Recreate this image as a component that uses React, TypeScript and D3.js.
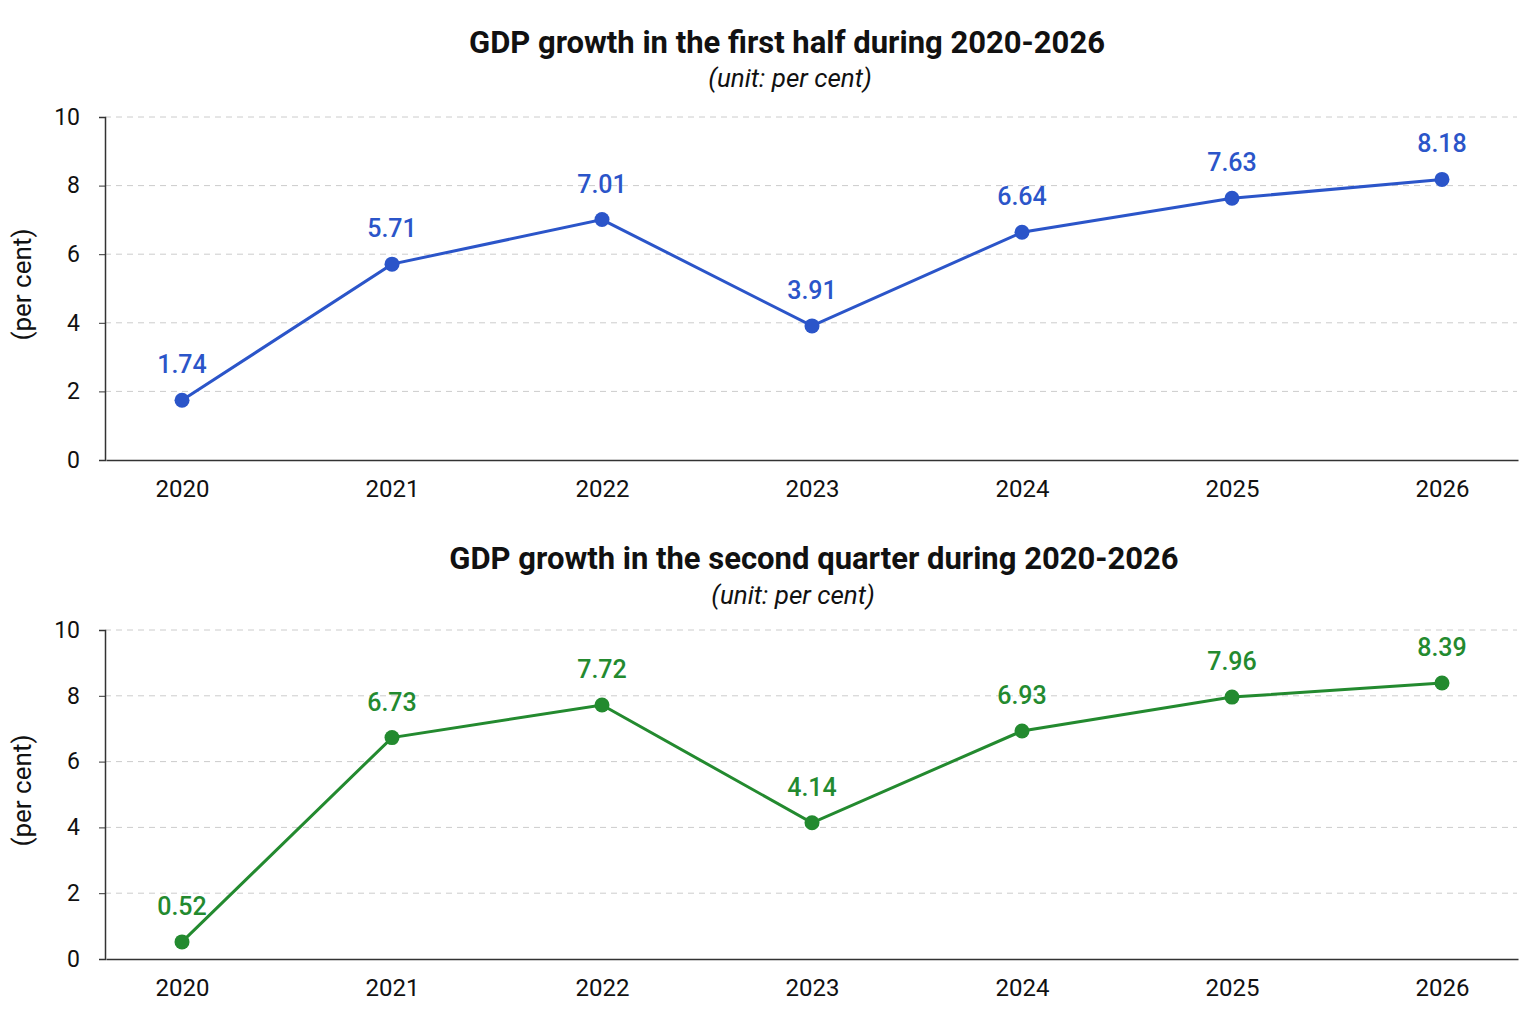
import React, { useEffect, useRef } from 'react';
import * as d3 from 'd3';

const years = ['2020', '2021', '2022', '2023', '2024', '2025', '2026'];
const firstHalf = [1.74, 5.71, 7.01, 3.91, 6.64, 7.63, 8.18];
const secondQuarter = [0.52, 6.73, 7.72, 4.14, 6.93, 7.96, 8.39];
const yTicks = [0, 2, 4, 6, 8, 10];

const panels = [
  {
    title: 'GDP growth in the first half during 2020-2026',
    subtitle: '(unit: per cent)',
    values: firstHalf,
    color: '#2b55c9',
    top: 117,
    bottom: 460,
    titleX: 787,
    titleY: 53,
    subtitleX: 790,
    subtitleY: 87,
  },
  {
    title: 'GDP growth in the second quarter during 2020-2026',
    subtitle: '(unit: per cent)',
    values: secondQuarter,
    color: '#238a2f',
    top: 630,
    bottom: 959,
    titleX: 814,
    titleY: 569,
    subtitleX: 793,
    subtitleY: 604,
  },
];

const FONT = 'Roboto, "Noto Sans", sans-serif';

const App: React.FC = () => {
  const svgRef = useRef<SVGSVGElement>(null);

  useEffect(() => {
    if (!svgRef.current) return;
    const svg = d3.select(svgRef.current);
    svg.selectAll('*').remove();

    const width = 1536;
    const height = 1024;
    const left = 105;
    const right = 1517;

    svg.append('rect').attr('width', width).attr('height', height).attr('fill', '#ffffff');

    const x = d3.scalePoint<string>().domain(years).range([left + 1, right + 1]).padding(0.362);

    panels.forEach(panel => {
      const y = d3.scaleLinear().domain([0, 10]).range([panel.bottom, panel.top]);
      const g = svg.append('g');

      // Titles
      g.append('text')
        .attr('x', panel.titleX)
        .attr('y', panel.titleY)
        .attr('text-anchor', 'middle')
        .style('font-family', FONT)
        .style('font-weight', 'bold')
        .style('font-size', '31px')
        .attr('fill', '#111')
        .text(panel.title);

      g.append('text')
        .attr('x', panel.subtitleX)
        .attr('y', panel.subtitleY)
        .attr('text-anchor', 'middle')
        .style('font-family', FONT)
        .style('font-style', 'italic')
        .style('font-size', '26px')
        .attr('fill', '#111')
        .text(panel.subtitle);

      // Grid lines
      g.append('g')
        .selectAll('line')
        .data(yTicks.filter(t => t > 0))
        .enter()
        .append('line')
        .attr('x1', left)
        .attr('x2', right)
        .attr('y1', d => y(d))
        .attr('y2', d => y(d))
        .attr('stroke', '#cccccc')
        .attr('stroke-width', 1)
        .attr('stroke-dasharray', '6,5');

      // Y axis
      const yAxis = g.append('g')
        .attr('transform', `translate(${left},0)`)
        .call(d3.axisLeft(y).tickValues(yTicks).tickSize(6).tickPadding(19).tickFormat(d3.format('d')));
      yAxis.select('.domain').attr('stroke', '#333').attr('stroke-width', 1.5);
      yAxis.selectAll('.tick line').attr('stroke', '#333');
      yAxis.selectAll('.tick text')
        .style('font-family', FONT)
        .style('font-size', '23px')
        .attr('fill', '#111');

      // X axis
      const xAxis = g.append('g')
        .attr('transform', `translate(0,${panel.bottom})`)
        .call(d3.axisBottom(x).tickSize(0).tickPadding(20));
      xAxis.select('.domain').attr('stroke', '#333').attr('stroke-width', 1.5);
      xAxis.selectAll('.tick text')
        .style('font-family', FONT)
        .style('font-size', '24px')
        .attr('fill', '#111');

      // Y axis label, a few px above the plot's vertical centre
      g.append('text')
        .attr('transform', `translate(31,${(panel.top + panel.bottom) / 2 - 4}) rotate(-90)`)
        .attr('text-anchor', 'middle')
        .style('font-family', FONT)
        .style('font-size', '26px')
        .attr('fill', '#111')
        .text('(per cent)');

      // Line and points
      const line = d3.line<number>()
        .x((_, i) => x(years[i]) as number)
        .y(d => y(d));

      g.append('path')
        .datum(panel.values)
        .attr('fill', 'none')
        .attr('stroke', panel.color)
        .attr('stroke-width', 3)
        .attr('d', line);

      g.selectAll('.pt')
        .data(panel.values)
        .enter()
        .append('circle')
        .attr('cx', (_, i) => x(years[i]) as number)
        .attr('cy', d => y(d))
        .attr('r', 7.5)
        .attr('fill', panel.color);

      g.selectAll('.val')
        .data(panel.values)
        .enter()
        .append('text')
        .attr('x', (_, i) => x(years[i]) as number)
        .attr('y', d => y(d) - 27)
        .attr('text-anchor', 'middle')
        .style('font-family', FONT)
        .style('font-weight', 500)
        .style('font-size', '25px')
        .attr('fill', panel.color)
        .text(d => d.toFixed(2));
    });
  }, []);

  return <svg ref={svgRef} width={1536} height={1024} style={{ display: 'block', position: 'absolute', left: 0, top: 0 }} />;
};

export default App;
